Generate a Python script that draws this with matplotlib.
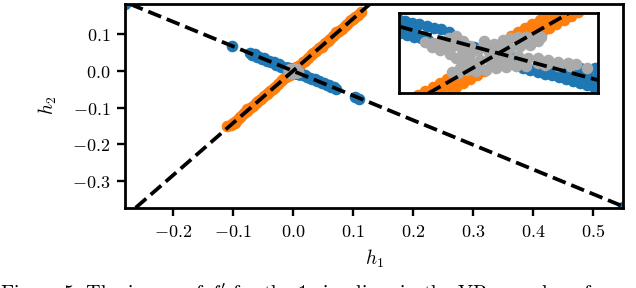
import numpy as np
import matplotlib.pyplot as plt
from matplotlib.ticker import FuncFormatter

plt.rcParams['mathtext.fontset'] = 'cm'

# ---- data (h1, h2) ----
# blue: far points + band along the negative line, then the dense part around 0 (seen in the inset)
blue_h1 = [-0.279, -0.102, -0.071, -0.068, -0.064, -0.060, -0.056, -0.052, -0.048, -0.044,
           -0.040, -0.036, -0.032, -0.028, -0.024, -0.020, -0.016, -0.013,
           0.013, 0.016, 0.020, 0.024, 0.028, 0.032, 0.036, 0.040, 0.044, 0.048,
           0.052, 0.056, 0.060, 0.064, 0.068, 0.072, 0.104, 0.110, 0.550,
           -0.0108, -0.0106, -0.0101, -0.0099, -0.0100, -0.0094, -0.0092, -0.0093,
           -0.0087, -0.0085, -0.0086, -0.0080, -0.0078, -0.0072, -0.0071, -0.0065,
           -0.0058, -0.0050, -0.0040, -0.0025, -0.0010, 0.0005, 0.0015,
           0.0025, 0.0032, 0.0040, 0.0040, 0.0047, 0.0047, 0.0054, 0.0055, 0.0061,
           0.0062, 0.0068, 0.0069, 0.0075, 0.0076, 0.0075, 0.0082, 0.0083, 0.0082,
           0.0089, 0.0090, 0.0090, 0.0096, 0.0097, 0.0097, 0.0103, 0.0104, 0.0104,
           0.0110, 0.0111, 0.0111]
blue_h2 = [0.182, 0.069, 0.049, 0.044, 0.045, 0.039, 0.039, 0.033, 0.034, 0.028,
           0.028, 0.023, 0.023, 0.017, 0.018, 0.012, 0.012, 0.008,
           -0.009, -0.012, -0.012, -0.017, -0.018, -0.022, -0.023, -0.028, -0.028, -0.033,
           -0.034, -0.038, -0.039, -0.044, -0.044, -0.049, -0.072, -0.076, -0.370,
           0.0092, 0.0058, 0.0086, 0.0050, 0.0068, 0.0081, 0.0045, 0.0063,
           0.0077, 0.0042, 0.0059, 0.0073, 0.0038, 0.0069, 0.0034, 0.0064,
           0.0060, 0.0053, 0.0027, 0.0017, 0.0007, -0.0003, -0.0010,
           -0.0036, -0.0041, -0.0046, -0.0027, -0.0051, -0.0031, -0.0055, -0.0036, -0.0059,
           -0.0040, -0.0064, -0.0044, -0.0069, -0.0049, -0.0031, -0.0073, -0.0054, -0.0036,
           -0.0078, -0.0059, -0.0040, -0.0083, -0.0064, -0.0037, -0.0087, -0.0068, -0.0040,
           -0.0090, -0.0072, -0.0045]

orange_h1 = [-0.110, -0.104, -0.100, -0.095, -0.090, -0.086, -0.081, -0.076, -0.072, -0.067,
             -0.062, -0.058, -0.053, -0.048, -0.044, -0.039, -0.034, -0.030, -0.025, -0.020,
             -0.016, -0.011, 0.011, 0.016, 0.020, 0.025, 0.030, 0.034, 0.039, 0.044,
             0.048, 0.053, 0.058, 0.062, 0.067, 0.072, 0.076, 0.081, 0.086, 0.090,
             0.095, 0.100, 0.104, 0.108, 0.113,
             -0.096, -0.077, -0.041, 0.048, 0.072, 0.096,
             -0.0088, -0.0076, -0.0065, -0.0081, -0.0069, -0.0058, -0.0074, -0.0062, -0.0051,
             -0.0066, -0.0054, -0.0043, -0.0059, -0.0047, -0.0036, -0.0052, -0.0040, -0.0029,
             -0.0045, -0.0033, -0.0022, -0.0038, -0.0026, -0.0015,
             0.0013, 0.0025, 0.0037, 0.0020, 0.0032, 0.0044, 0.0027, 0.0039, 0.0051,
             0.0034, 0.0046, 0.0058, 0.0042, 0.0054, 0.0066, 0.0049, 0.0061, 0.0073,
             0.0056, 0.0068, 0.0080, 0.0063, 0.0075, 0.0087]
orange_h2 = [-0.151, -0.148, -0.142, -0.135, -0.128, -0.122, -0.115, -0.108, -0.102, -0.095,
             -0.088, -0.082, -0.075, -0.068, -0.062, -0.055, -0.048, -0.043, -0.036, -0.028,
             -0.023, -0.016, 0.016, 0.023, 0.028, 0.036, 0.043, 0.048, 0.055, 0.062,
             0.068, 0.075, 0.082, 0.088, 0.095, 0.102, 0.108, 0.115, 0.122, 0.128,
             0.135, 0.142, 0.148, 0.153, 0.159,
             -0.141, -0.104, -0.061, 0.065, 0.106, 0.139,
             -0.0113, -0.0113, -0.0113, -0.0103, -0.0103, -0.0103, -0.0093, -0.0093, -0.0093,
             -0.0083, -0.0083, -0.0083, -0.0073, -0.0073, -0.0073, -0.0063, -0.0063, -0.0063,
             -0.0053, -0.0053, -0.0053, -0.0043, -0.0043, -0.0043,
             0.0043, 0.0043, 0.0043, 0.0053, 0.0053, 0.0053, 0.0063, 0.0063, 0.0063,
             0.0073, 0.0073, 0.0073, 0.0083, 0.0083, 0.0083, 0.0093, 0.0093, 0.0093,
             0.0103, 0.0103, 0.0103, 0.0113, 0.0113, 0.0113]

# gray: the points at the crossing (only really visible in the inset)
gray_h1 = [-0.0074, -0.0066, -0.0058, -0.0050, -0.0043, -0.0052, -0.0044, -0.0036, -0.0037, -0.0029,
           -0.0029, -0.0021, -0.0013, -0.0005, 0.0004, 0.0012, 0.0020, 0.0028, 0.0036, 0.0043,
           0.0032, 0.0022, 0.0012, 0.0002, -0.0009, -0.0019, -0.0029, -0.0037, -0.0039, -0.0041,
           -0.0047, -0.0032, -0.0023, -0.0013, -0.0003, 0.0008, 0.0018, 0.0028, 0.0030, 0.0020,
           0.0010, 0.0000, 0.0040, 0.0050, 0.0060, 0.0070, 0.0078, 0.0089,
           -0.0059, -0.0049, -0.0067, -0.0043, 0.0047, 0.0060, 0.0072,
           -0.0060, -0.0045, -0.0030, -0.0015, -0.0010, 0.0008, 0.0025, 0.0040,
           -0.0025, -0.0008, 0.0010, 0.0025, 0.0040, 0.0050, 0.0000, -0.0020]
gray_h2 = [0.0028, 0.0026, 0.0031, 0.0038, 0.0043, 0.0018, 0.0021, 0.0031, 0.0011, 0.0018,
           -0.0002, 0.0008, 0.0016, 0.0023, 0.0033, 0.0038, 0.0041, 0.0041, 0.0041, 0.0041,
           0.0021, 0.0018, 0.0013, 0.0008, -0.0004, -0.0017, -0.0022, -0.0017, -0.0037, -0.0049,
           -0.0047, -0.0042, -0.0044, -0.0042, -0.0037, -0.0034, -0.0032, -0.0032, -0.0012, -0.0007,
           -0.0012, -0.0017, -0.0012, -0.0017, -0.0022, -0.0024, -0.0027, -0.0037,
           0.0008, -0.0002, 0.0016, -0.0012, -0.0029, -0.0032, -0.0032,
           0.0020, 0.0030, 0.0008, 0.0030, 0.0005, 0.0025, 0.0030, 0.0030,
           -0.0032, -0.0026, -0.0022, -0.0022, -0.0025, -0.0025, 0.0000, -0.0030]

# fitted directions (dashed lines through the origin)
slope_blue = -0.67
slope_orange = 1.42

x_ticks = [-0.2, -0.1, 0.0, 0.1, 0.2, 0.3, 0.4, 0.5]
y_ticks = [-0.3, -0.2, -0.1, 0.0, 0.1]

caption = "Figure 5: The image of $f'$ for the 1-simplices in the VR complex of"


def draw(a):
    a.scatter(blue_h1, blue_h2, s=70, c='#1f77b4', linewidths=0, zorder=2)
    a.scatter(orange_h1, orange_h2, s=70, c='#ff7f0e', linewidths=0, zorder=2)
    a.scatter(gray_h1, gray_h2, s=70, c='#aaaaaa', linewidths=0, zorder=3)
    a.axline((0, 0), slope=slope_blue, color='k', ls='--', lw=2.7, zorder=4)
    a.axline((0, 0), slope=slope_orange, color='k', ls='--', lw=2.7, zorder=4)
    for sp in a.spines.values():
        sp.set_linewidth(2.0)


fig = plt.figure(figsize=(6.36, 2.88), dpi=100)

# ---------------- main axes ----------------
ax = fig.add_axes([0.1973, 0.2788, 0.7827, 0.7073])
draw(ax)
ax.set_xlim(-0.279, 0.550)
ax.set_ylim(-0.372, 0.182)
ax.set_xticks(x_ticks)
ax.set_yticks(y_ticks)
fmt = FuncFormatter(lambda v, p: f"${0.0 if abs(v) < 1e-9 else v:.1f}$")
ax.xaxis.set_major_formatter(fmt)
ax.yaxis.set_major_formatter(fmt)
ax.tick_params(length=6, width=1.7, labelsize=13, pad=5)
ax.set_xlabel('$h_1$', fontsize=14, labelpad=5)
ax.set_ylabel('$h_2$', fontsize=14, labelpad=9)

# ---------------- inset (zoom at the crossing) ----------------
axin = fig.add_axes([0.6274, 0.6760, 0.3129, 0.2778])
draw(axin)
axin.set_xlim(-0.01, 0.01)
axin.set_ylim(-0.01, 0.01)
axin.set_xticks([])
axin.set_yticks([])

# caption (cut off by the bottom edge in the reference)
fig.text(0.0, 0.020, caption, family='cmr10', fontsize=14.5, va='top', ha='left')

fig.savefig('out.png', dpi=100)
